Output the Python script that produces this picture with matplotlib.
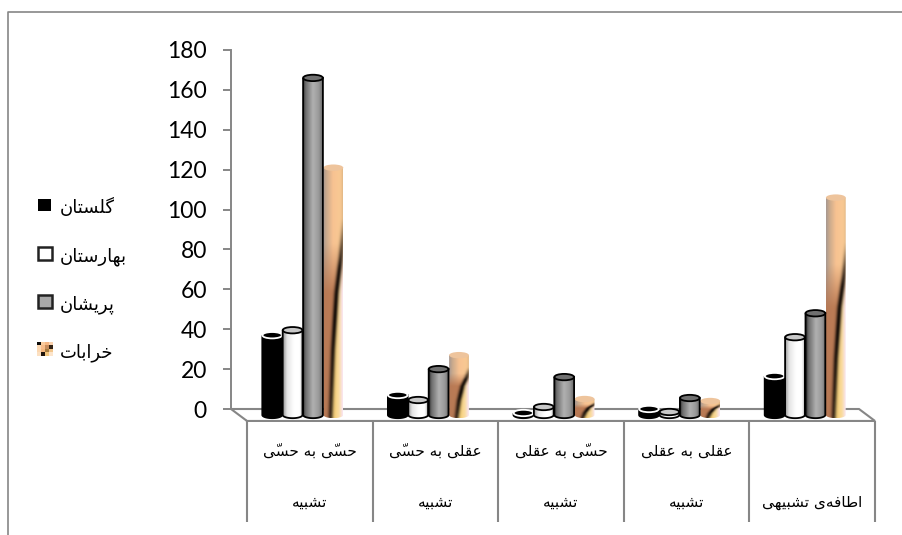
import numpy as np
import matplotlib
matplotlib.use('Agg')
import matplotlib.pyplot as plt
from matplotlib.lines import Line2D
from matplotlib.patches import Ellipse, PathPatch, Rectangle
from matplotlib.path import Path

W, H = 903, 535

categories_top = ['حسّی به حسّی', 'عقلی به حسّی', 'حسّی به عقلی', 'عقلی به عقلی', '']
categories_bottom = ['تشبیه', 'تشبیه', 'تشبیه', 'تشبیه', 'اضافه‌ی تشبیهی']
series_names = ['گلستان', 'بهارستان', 'پریشان', 'خرابات']
y_ticks = [0, 20, 40, 60, 80, 100, 120, 140, 160, 180]

golestan = [40, 10, 1, 3, 19.5]
baharestan = [42.5, 7.5, 4, 1.5, 39]
parishan = [169, 23, 19, 8.5, 51]
kharabat = [124, 30, 8, 7, 109]

GREY = '#868686'

# contextual letter forms: isolated, final, initial, medial
FORMS = {
    'ا': (0xFE8D, 0xFE8E), 'ب': (0xFE8F, 0xFE90, 0xFE91, 0xFE92),
    'پ': (0xFB56, 0xFB57, 0xFB58, 0xFB59), 'ت': (0xFE95, 0xFE96, 0xFE97, 0xFE98),
    'ح': (0xFEA1, 0xFEA2, 0xFEA3, 0xFEA4), 'خ': (0xFEA5, 0xFEA6, 0xFEA7, 0xFEA8),
    'ر': (0xFEAD, 0xFEAE), 'س': (0xFEB1, 0xFEB2, 0xFEB3, 0xFEB4),
    'ش': (0xFEB5, 0xFEB6, 0xFEB7, 0xFEB8), 'ض': (0xFEC1, 0xFEC2, 0xFEC3, 0xFEC4),
    'ع': (0xFEC9, 0xFECA, 0xFECB, 0xFECC), 'ف': (0xFED1, 0xFED2, 0xFED3, 0xFED4),
    'ق': (0xFED5, 0xFED6, 0xFED7, 0xFED8), 'گ': (0xFB92, 0xFB93, 0xFB94, 0xFB95),
    'ل': (0xFEDD, 0xFEDE, 0xFEDF, 0xFEE0), 'ن': (0xFEE5, 0xFEE6, 0xFEE7, 0xFEE8),
    'ه': (0xFEE9, 0xFEEA, 0xFEEB, 0xFEEC), 'ی': (0xFBFC, 0xFBFD, 0xFBFE, 0xFBFF),
}


def shape(text):
    '''join the letters and return them in drawing order, matplotlib does no shaping'''
    letters = [c for c in text if c != '\u0651']
    marks = [i for i, c in enumerate(text) if c == '\u0651']
    out = []
    for i, c in enumerate(letters):
        if c not in FORMS:
            out.append(c if c != '\u200c' else '')
            continue
        prev = letters[i - 1] if i > 0 else ''
        nxt = letters[i + 1] if i + 1 < len(letters) else ''
        joins_prev = prev in FORMS and len(FORMS[prev]) == 4
        joins_next = nxt in FORMS and len(FORMS[c]) == 4
        idx = (2 if not joins_prev else 3) if joins_next else (1 if joins_prev else 0)
        out.append(chr(FORMS[c][idx]))
    # the shadda has no advance, so it goes in front of its letter
    for m in marks:
        base = m - 1 - sum(1 for k in marks if k < m)
        out[base] = '\u0651' + out[base]
    return ''.join(reversed(out))


def orangeTexture(n=80):
    '''peach wood map with the dark streak running down to the lower left'''
    u, v = np.meshgrid(np.linspace(0, 1, 40), np.linspace(0, 1, n))
    streak = np.interp(v, [0.2, 0.36, 0.5, 0.73, 1.0], [1.08, 0.9, 0.68, 0.5, 0.38])
    stops = [0, 0.15, 0.5, 1]
    base = np.stack([np.interp(u, stops, s) for s in ([0.66, 0.78, 0.97, 0.98],
                                                       [0.6, 0.66, 0.76, 0.8],
                                                       [0.57, 0.55, 0.57, 0.58])], axis=-1)
    # brown to the left of the streak, pale yellow and pink to the right
    lower = np.clip((v - 0.3) / 0.2, 0, 1)
    left = (u < streak) * lower
    brown = np.array([0.72, 0.46, 0.31])
    base = base * (1 - 0.9 * left[..., None]) + brown * 0.9 * left[..., None]
    right = (u >= streak) * lower
    yellow = np.stack([np.interp(u, [0, 0.6, 0.8, 1], s) for s in ([0.98, 0.98, 0.98, 0.98],
                                                                    [0.83, 0.83, 0.86, 0.9],
                                                                    [0.5, 0.5, 0.62, 0.95])], axis=-1)
    base = base * (1 - right[..., None]) + yellow * right[..., None]
    strength = np.interp(v, [0.2, 0.4, 0.6, 1.0], [0.15, 0.95, 1.0, 0.75])
    dark = np.exp(-((u - streak) / 0.13) ** 2) * strength
    return base * (1 - dark[..., None]) + np.array([0.08, 0.05, 0.03]) * dark[..., None]


def gradient(stops, colors):
    u = np.linspace(0, 1, 40)
    rgb = np.array([matplotlib.colors.to_rgb(c) for c in colors])
    return np.stack([np.interp(u, stops, rgb[:, k]) for k in range(3)], axis=-1)[None, :, :]


STYLES = [
    dict(image=gradient([0, 1], ['#000000', '#000000']), cap='#000000', capedge='white', edge='black', z=4),
    dict(image=gradient([0, 0.2, 0.55, 0.85, 1], ['#9a9a9a', '#e4e4e4', '#ffffff', '#ffffff', '#bbbbbb']),
         cap='#c8c8c8', capedge='black', edge='black', z=5),
    dict(image=gradient([0, 0.12, 0.5, 0.8, 1], ['#333333', '#6c6c6c', '#b0b0b0', '#999999', '#6a6a6a']),
         cap='#707070', capedge='black', edge='black', z=6),
    dict(image=orangeTexture(), cap='#eec49c', capedge='none', edge='none', z=3),
]


def cylinder(ax, x, value, width, ry, shift, style):
    '''one upright cylinder with its foot on the floor, value gives the lid height'''
    x0, x1 = x - width / 2, x + width / 2
    low, top = -shift, value - shift
    t = np.linspace(np.pi, 2 * np.pi, 30)
    bottom = np.column_stack([x + width / 2 * np.cos(t), low + ry * np.sin(t)])
    verts = np.vstack([[[x0, top]], bottom, [[x1, top]], [[x0, top]]])
    body = PathPatch(Path(verts), facecolor='none', edgecolor=style['edge'], lw=1.3,
                     clip_on=False, zorder=style['z'] + 0.2)
    ax.add_patch(body)
    im = ax.imshow(style['image'], extent=(x0, x1, low - ry, top), aspect='auto',
                   interpolation='bilinear', zorder=style['z'])
    im.set_clip_path(body)
    im.set_clip_box(ax.figure.bbox)
    ax.add_patch(Ellipse((x, top), width, 2 * ry, facecolor=style['cap'], edgecolor=style['capedge'],
                         lw=1.3, clip_on=False, zorder=style['z'] + 0.3))


fig = plt.figure(figsize=(W / 100, H / 100), dpi=100, facecolor='white')
ax = fig.add_axes([247 / W, (H - 409) / H, 628 / W, 359 / H])
ax.patch.set_visible(False)

# floor depth and bar offset, in data units
depth_x, depth_y = 16 / 125.6, 6.0
bar_dx, bar_dy = 7 / 125.6, 3.0
bar_w = 19.8 / 125.6
cap_ry = 1.6

for s, values in enumerate([golestan, baharestan, parishan, kharabat]):
    for c, v in enumerate(values):
        x = c - bar_dx + (s - 1.5) * 20.4 / 125.6
        cylinder(ax, x, v, bar_w, cap_ry, bar_dy, STYLES[s])

# floor outline
floor_x = [-0.5, -0.5 - depth_x, 4.5 - depth_x, 4.5, -0.5]
floor_y = [-depth_y, 0, 0, -depth_y, -depth_y]
ax.plot(floor_x, floor_y, color=GREY, lw=1.5, clip_on=False, zorder=1, solid_joinstyle='miter')

# category separators and the two label rows
ax.vlines(np.arange(-0.5, 5), -56.7, -depth_y, color=GREY, lw=1.5, clip_on=False, zorder=1)
for c in range(5):
    if categories_top[c]:
        ax.text(c, -21, shape(categories_top[c]), ha='center', va='center', fontsize=11,
                family='DejaVu Sans', color='black')
    ax.text(c, -47, shape(categories_bottom[c]), ha='center', va='center', fontsize=11,
            family='DejaVu Sans', color='black')

ax.set_xlim(-0.5, 4.5)
ax.set_ylim(0, 180)
ax.set_xticks([])
ax.set_yticks(y_ticks)
ax.tick_params(axis='y', length=5.8, width=1.4, color=GREY, pad=11.5, labelsize=16.5, labelfontfamily='Lato')
for side in ['top', 'right', 'bottom']:
    ax.spines[side].set_visible(False)
ax.spines['left'].set_position(('data', -0.5 - depth_x))
ax.spines['left'].set_bounds(0, 180)
ax.spines['left'].set_color(GREY)
ax.spines['left'].set_linewidth(1.4)

# outer chart frame, only top and left fall inside the image
fig.add_artist(Line2D([8 / W, 8 / W, 1], [0, (H - 12) / H, (H - 12) / H], color=GREY, lw=1.2))

# legend
fig.add_artist(Rectangle((38 / W, (H - 211) / H), 13 / W, 12 / H, facecolor='black', edgecolor='none'))
fig.add_artist(Rectangle((38 / W, (H - 260) / H), 14 / W, 13 / H, facecolor='white', edgecolor='#222222', lw=1.8))
fig.add_artist(Rectangle((38 / W, (H - 308) / H), 14 / W, 13 / H, facecolor='#a8a8a8', edgecolor='#222222', lw=1.8))
swatch = fig.add_axes([37 / W, (H - 356) / H, 16 / W, 14 / H])
swatch.imshow(np.array([[[0.05, 0.05, 0.05], [0.98, 0.8, 0.62], [0.97, 0.72, 0.52], [0.98, 0.82, 0.68]],
                        [[0.99, 0.85, 0.7], [0.97, 0.74, 0.54], [0.78, 0.55, 0.36], [0.2, 0.14, 0.08]],
                        [[0.99, 0.85, 0.7], [0.96, 0.72, 0.5], [0.65, 0.48, 0.25], [0.95, 0.78, 0.55]],
                        [[0.99, 0.88, 0.76], [0.12, 0.08, 0.05], [0.95, 0.78, 0.5], [0.99, 0.9, 0.8]]]),
              aspect='auto', interpolation='nearest')
swatch.axis('off')

for name, py in zip(series_names, [207, 257, 305, 353]):
    fig.text(60 / W, (H - py) / H, shape(name), ha='left', va='center', fontsize=13,
             family='DejaVu Sans', color='black')

fig.savefig('out.png', dpi=100, facecolor='white')
